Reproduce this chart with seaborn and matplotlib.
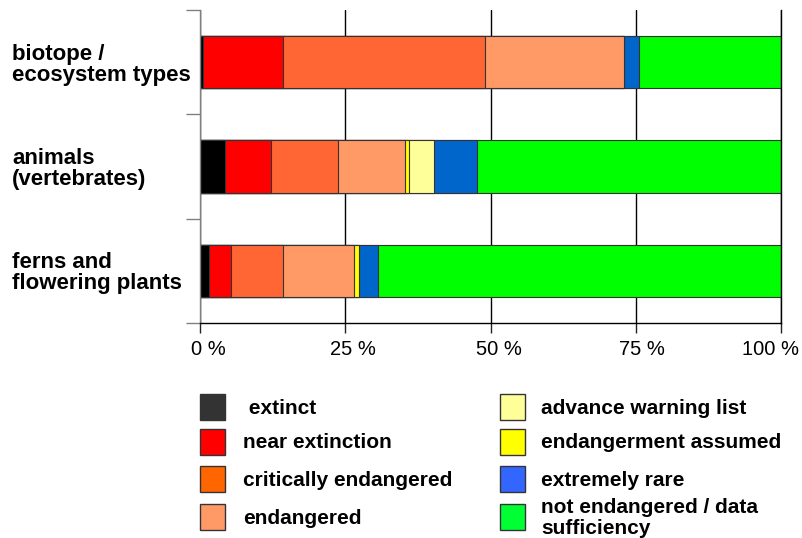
import matplotlib
matplotlib.use("Agg")
import matplotlib.pyplot as plt
from matplotlib.patches import Rectangle
from matplotlib.transforms import ScaledTranslation
import pandas as pd
import seaborn as sns

# Groups shown on the vertical axis (top to bottom)
groups = ["biotope /\necosystem types", "animals\n(vertebrates)", "ferns and\nflowering plants"]

# Red list categories in stacking order (left to right)
categories = ["extinct", "near extinction", "critically endangered", "endangered",
              "endangerment assumed", "advance warning list", "extremely rare",
              "not endangered / data\nsufficiency"]

# Share of each category per group, in percent
extinct = [0.5, 4.3, 1.6]
near_extinction = [13.7, 8.0, 3.7]
critically_endangered = [34.8, 11.5, 8.9]
endangered = [23.9, 11.5, 12.3]
endangerment_assumed = [0.0, 0.7, 0.9]
advance_warning = [0.0, 4.3, 0.0]
extremely_rare = [2.6, 7.4, 3.3]
not_endangered = [24.5, 52.3, 69.3]

tick_values = [0, 25, 50, 75, 100]
tick_labels = ["0 %", "25 %", "50 %", "75 %", "100 %"]

bar_colors = ["#000000", "#FF0000", "#FF6633", "#FF9966",
              "#FFFF00", "#FFFF99", "#0066CC", "#00FF00"]
legend_colors = ["#333333", "#FF0000", "#FF6600", "#FF9966",
                 "#FFFF00", "#FFFF99", "#3366FF", "#00FF33"]

series = [extinct, near_extinction, critically_endangered, endangered,
          endangerment_assumed, advance_warning, extremely_rare, not_endangered]
df = pd.DataFrame(dict(zip(categories, series)), index=groups)
cum = df.cumsum(axis=1)

sns.set_style("ticks")
plt.rcParams["font.family"] = ["Liberation Sans", "DejaVu Sans"]
plt.rcParams["text.color"] = "black"
plt.rcParams["xtick.color"] = "black"
plt.rcParams["ytick.color"] = "black"

W, H = 802, 538
fig = plt.figure(figsize=(W / 100, H / 100), dpi=100)
ax = fig.add_axes([200 / W, 1 - 323 / H, 581 / W, 313 / H])

# stacked bars: draw cumulative totals from the right-most category down
for cat, col in reversed(list(zip(categories, bar_colors))):
    sns.barplot(x=cum[cat].values, y=groups, orient="h", color=col,
                saturation=1, width=0.5, edgecolor="#333333", linewidth=0.8,
                ax=ax)

ax.set_xlim(0, 100)
ax.set_ylim(2.5, -0.5)
ax.set_xlabel("")
ax.set_ylabel("")

ax.set_xticks(tick_values)
ax.set_xticklabels(tick_labels)
ax.tick_params(axis="x", length=7, width=1, color="#222222", pad=5,
               labelsize=14.5, bottom=True)
# nudge the percent labels to the right, the last one inwards
shifts = [8, 8, 8, 6, -10]
for lab, dx in zip(ax.get_xticklabels(), shifts):
    lab.set_transform(lab.get_transform() +
                      ScaledTranslation(dx / 100, 0, fig.dpi_scale_trans))

ax.set_yticks(range(len(groups)))
ax.set_yticklabels(groups)
ax.set_yticks([-0.5, 0.5, 1.5, 2.5], minor=True)
ax.tick_params(axis="y", which="major", length=0, pad=188 * 0.72)
ax.tick_params(axis="y", which="minor", length=10, width=1, color="#808080")
for t in ax.get_yticklabels():
    t.set_ha("left")
    t.set_fontweight("bold")
    t.set_fontsize(16)
    t.set_linespacing(1.0)

ax.grid(axis="x", color="black", linewidth=1)
ax.set_axisbelow(True)
ax.spines["top"].set_visible(False)
ax.spines["right"].set_visible(True)
ax.spines["right"].set_color("black")
ax.spines["bottom"].set_color("black")
ax.spines["left"].set_color("#808080")
for s in ax.spines.values():
    s.set_linewidth(1)

# legend in two columns below the chart
left_order = [0, 1, 2, 3]
right_order = [5, 4, 6, 7]
rows_y = [407, 442, 479, 517]
for col_x, text_x, order in [(200, 243, left_order), (500, 541, right_order)]:
    for y, idx in zip(rows_y, order):
        fig.add_artist(Rectangle((col_x / W, 1 - (y + 13) / H), 25 / W, 26 / H,
                                 facecolor=legend_colors[idx], edgecolor="#333333",
                                 linewidth=1, transform=fig.transFigure))
        label = categories[idx]
        if idx == 0:
            label = " " + label
        fig.text(text_x / W, 1 - (y + 1) / H, label, ha="left", va="center",
                 fontsize=15, fontweight="bold", linespacing=1.1)

fig.savefig("out.png", dpi=100)
